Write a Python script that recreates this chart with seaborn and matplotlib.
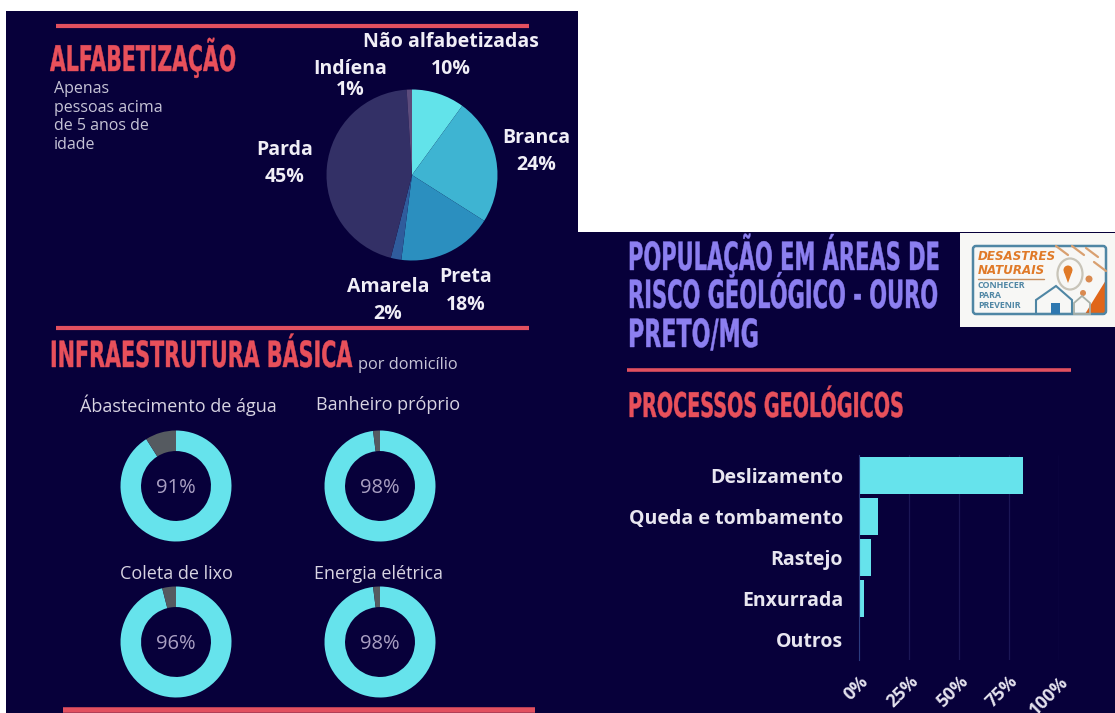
import matplotlib
matplotlib.use('Agg')
import matplotlib.pyplot as plt
from matplotlib.patches import Rectangle, FancyBboxPatch, Polygon, Circle, Ellipse
from matplotlib.patheffects import AbstractPathEffect
from matplotlib.text import Text
from matplotlib.transforms import Affine2D, Bbox
import seaborn as sns

W, H = 1115, 713
NAVY = '#07003a'
RED = '#e8505b'
LINE_RED = '#e2505f'
CYAN = '#66e3ec'
VIOLET = '#8c7ff0'
BODY = ['Open Sans', 'DejaVu Sans']

# alfabetizacao, clockwise from the top
pie_names = ['Não alfabetizadas', 'Branca', 'Preta', 'Amarela', 'Parda', 'Indíena']
pie_values = [10, 24, 18, 2, 45, 1]
pie_colors = ['#62e3ea', '#3eb4d2', '#2b8fbf', '#2f5c9c', '#333066', '#5c4c7c']

# infraestrutura
donut_names = ['Ábastecimento de água', 'Banheiro próprio', 'Coleta de lixo', 'Energia elétrica']
donut_values = [91, 98, 96, 98]

# processos geologicos
process_names = ['Deslizamento', 'Queda e tombamento', 'Rastejo', 'Enxurrada', 'Outros']
process_values = [82, 9.7, 6, 2.5, 0.2]
process_ticks = [0, 25, 50, 75, 100]

sns.set_theme(style='white')
plt.rcParams['font.family'] = BODY

fig = plt.figure(figsize=(W / 100, H / 100), dpi=100, facecolor='white')


class Squeeze(AbstractPathEffect):
    # no condensed font is installed, so the glyph outlines get narrowed (and a bit heavier)
    def __init__(self, text):
        super().__init__()
        self.text = text

    def draw_path(self, renderer, gc, tpath, affine, rgbFace=None):
        bb = Text.get_window_extent(self.text)
        sx = self.text.target / bb.width
        squeeze = Affine2D().translate(-bb.x0, 0).scale(sx, 1).translate(bb.x0, 0)
        gc0 = renderer.new_gc()
        gc0.copy_properties(gc)
        gc0.set_linewidth(0.3)
        gc0.set_foreground(rgbFace)
        renderer.draw_path(gc0, tpath, affine + squeeze, rgbFace)
        gc0.restore()


class NarrowText(Text):
    def __init__(self, x, y, s, target, **kw):
        super().__init__(x, y, s, **kw)
        self.target = target
        self.set_path_effects([Squeeze(self)])

    def get_window_extent(self, renderer=None, dpi=None):
        bb = super().get_window_extent(renderer, dpi)
        return Bbox.from_extents(bb.x0, bb.y0, bb.x0 + self.target, bb.y1)


def px_axes(x0, y0, x1, y1):
    ax = fig.add_axes([x0 / W, 1 - y1 / H, (x1 - x0) / W, (y1 - y0) / H])
    ax.patch.set_visible(False)
    return ax


def round_axes(cx, cy, r):
    return px_axes(cx - r * 1.02, cy - r * 1.02, cx + r * 1.02, cy + r * 1.02)


def finish_round(ax):
    ax.set_xlim(-1.02, 1.02)
    ax.set_ylim(-1.02, 1.02)
    ax.set_aspect('auto')


canvas = px_axes(0, 0, W, H)
canvas.set_xlim(0, W)
canvas.set_ylim(H, 0)
canvas.axis('off')

# the two dark panels
canvas.add_patch(Rectangle((6, 11), 572, 702, color=NAVY, lw=0))
canvas.add_patch(Rectangle((578, 232), 537, 481, color=NAVY, lw=0))

# red rules
for x0, x1, y, lw in [(56, 529, 26, 3), (56, 529, 328, 3), (63, 535, 710, 4), (627, 1071, 370, 2.6)]:
    canvas.plot([x0, x1], [y, y], color=LINE_RED, lw=lw, solid_capstyle='butt')


def label(x, y, s, size=14, weight='normal', color='#f0eef6', ha='center', family=BODY, style='normal'):
    canvas.text(x, y, s, fontsize=size, fontweight=weight, color=color, ha=ha, va='center',
                family=family, fontstyle=style)


def heading(x, base, s, size, width, color=RED):
    canvas.add_artist(NarrowText(x, base, s, width, fontsize=size, fontweight='bold', color=color,
                                 ha='left', va='baseline', family=['DejaVu Sans']))


heading(50, 71, 'ALFABETIZAÇÃO', 25.5, 186)
for y, s in zip([89, 108, 126, 145], ['Apenas', 'pessoas acima', 'de 5 anos de', 'idade']):
    label(54, y, s, size=11.5, color='#c6c4d6', ha='left')

# pie
ax = round_axes(412, 175, 85.5)
ax.pie(pie_values, colors=pie_colors, startangle=90, counterclock=False, radius=1,
       wedgeprops={'linewidth': 0})
finish_round(ax)

pie_label_pos = [(451, 42, 69), (536, 138, 165), (466, 277, 305), (388, 287, 314), (285, 150, 177), (350, 69, 90)]
for name, value, (x, y1, y2) in zip(pie_names, pie_values, pie_label_pos):
    label(x, y1, name, size=14, weight='bold')
    label(x, y2, f'{value}%', size=14, weight='bold')

# infraestrutura
heading(50, 367, 'INFRAESTRUTURA BÁSICA', 26, 303)
label(358, 365, 'por domicílio', size=11.8, color='#c6c4d6', ha='left')

donut_centers = [(176, 486), (380, 486), (176, 642), (380, 642)]
donut_label_pos = [(178, 405), (388, 405), (176, 574), (378, 574)]
for name, value, (cx, cy), (lx, ly) in zip(donut_names, donut_values, donut_centers, donut_label_pos):
    ax = round_axes(cx, cy, 55.5)
    ax.pie([value, 100 - value], colors=[CYAN, '#555a60'], startangle=90, counterclock=False,
           wedgeprops={'width': 0.37, 'linewidth': 0})
    finish_round(ax)
    ax.text(0, -0.04, f'{value}%', fontsize=14.5, color='#a99fc2', ha='center', va='center')
    label(lx, ly, name, size=13, color='#d8d4e2')

# right panel title
title_lines = ['POPULAÇÃO EM ÁREAS DE', 'RISCO GEOLÓGICO - OURO', 'PRETO/MG']
for base, s, width in zip([270, 308, 347], title_lines, [312, 310, 131]):
    heading(628, base, s, 28, width, color=VIOLET)
heading(628, 417, 'PROCESSOS GEOLÓGICOS', 24.5, 276)

# logo
ORANGE = '#e07a28'
BLUE = '#4f86a4'
canvas.add_patch(Rectangle((960, 233), 155, 94, color='#f7f7f5', lw=0))
canvas.add_patch(Polygon([(1106, 280), (1106, 314), (1085, 314)], color='#e0661a', lw=0))
for x, y in [(1056, 246), (1072, 246), (1086, 248), (1094, 262)]:
    canvas.plot([x, x + 12], [y, y + 9], color='#d9a070', lw=1.6)
canvas.add_patch(Ellipse((1070, 274), 25, 31, fc='none', ec='#c8c4b8', lw=1.6))
canvas.add_patch(Circle((1068, 270), 4.5, color=ORANGE, lw=0))
canvas.add_patch(Polygon([(1064, 272), (1072, 272), (1068, 283)], color=ORANGE, lw=0))
canvas.add_patch(Circle((1089, 279), 3.5, color='#d98a50', lw=0))
canvas.add_patch(Circle((1083, 293), 3, color='#d98a50', lw=0))
canvas.add_patch(FancyBboxPatch((973, 246), 133, 68, boxstyle='round,pad=0,rounding_size=3',
                                fc='none', ec=BLUE, lw=1.8))
canvas.plot([978, 1044], [279, 279], color='#c89060', lw=1)
canvas.add_patch(Polygon([(1036, 314), (1036, 300), (1056, 286), (1072, 300), (1072, 314)],
                         fc='none', ec=BLUE, lw=1.5))
canvas.add_patch(Rectangle((1051, 303), 9, 11, color='#2f78b0', lw=0))
canvas.add_patch(Polygon([(1074, 314), (1074, 303), (1082, 296), (1090, 303), (1090, 314)],
                         fc='none', ec='#a8b0a8', lw=1.3))
label(978, 257, 'DESASTRES', size=8.6, weight='bold', color=ORANGE, ha='left', family=['DejaVu Sans'], style='italic')
label(978, 271, 'NATURAIS', size=8.6, weight='bold', color=ORANGE, ha='left', family=['DejaVu Sans'], style='italic')
for y, s in zip([286, 296, 306], ['CONHECER', 'PARA', 'PREVENIR']):
    label(978, y, s, size=6.4, weight='bold', color=BLUE, ha='left')

# bars
ax = px_axes(859, 455, 1059, 660)
sns.barplot(x=process_values, y=process_names, orient='h', color=CYAN, saturation=1, width=0.9,
            linewidth=0, ax=ax)
ax.set_xlim(0, 100)
ax.set_xticks(process_ticks)
ax.set_xticklabels([f'{t}%' for t in process_ticks], rotation=45, ha='right', rotation_mode='anchor',
                   fontsize=13, fontweight='bold', color='#e4e2ee')
ax.tick_params(axis='x', length=0, pad=9)
ax.tick_params(axis='y', length=0, pad=11.5, labelsize=14, labelcolor='#e8e6f0')
for t in ax.get_yticklabels():
    t.set_fontweight('bold')
ax.set_axisbelow(True)
ax.grid(axis='x', color='#1b1656', lw=0.9)
ax.grid(axis='y', visible=False)
for side, spine in ax.spines.items():
    spine.set_visible(side == 'left')
ax.spines['left'].set_color('#2c3c80')
ax.spines['left'].set_linewidth(0.8)
ax.set_xlabel('')
ax.set_ylabel('')

fig.savefig('out.png', dpi=100, facecolor='white')
